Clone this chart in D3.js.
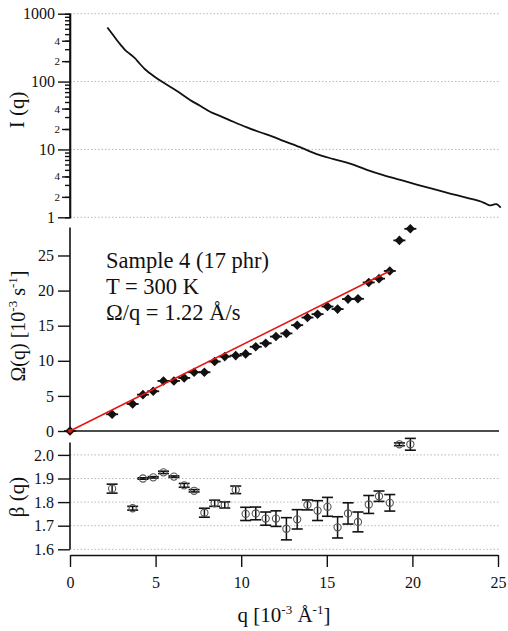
<!DOCTYPE html>
<html><head><meta charset="utf-8">
<script src="https://cdn.jsdelivr.net/npm/d3@7"></script>
<style>
html,body{margin:0;padding:0;background:#fff;}
svg text{font-family:"Liberation Serif","Times New Roman",serif;fill:#111;}
</style></head>
<body><svg id="c" width="508" height="631"></svg>
<script>
// ---- data ----
const qIntensity = [2.18,2.45,2.72,2.97,3.21,3.5,3.79,4.08,4.38,4.9,5.45,6.2,7.01,7.6,8.18,8.85,9.54,10.3,11.1,11.8,12.46,13.4,14.41,15.4,16.36,17.3,18.3,19.3,20.25,21.2,22.2,23.2,24.15,24.5,24.7,24.92,25.16];
const intensity = [627,510,413,345,294,255,221,183,152,120,96.6,74,53.6,44,36,30.5,25.6,21.3,17.9,15.6,13.4,10.9,8.53,7.2,6.2,5.05,4.18,3.55,3.04,2.62,2.24,1.93,1.65,1.50,1.53,1.56,1.39];

const qPoints = [2.46,3.66,4.26,4.86,5.46,6.07,6.67,7.25,7.85,8.45,9.04,9.68,10.26,10.85,11.43,12.03,12.64,13.27,13.87,14.46,15.04,15.63,16.24,16.82,17.45,18.05,18.68,19.24,19.88];
const omega = [2.38,3.85,5.18,5.66,7.13,7.13,7.56,8.37,8.37,9.89,10.6,10.74,10.98,12.0,12.5,13.45,13.9,15.07,16.16,16.64,17.73,17.36,18.79,18.83,21.16,21.7,22.8,27.15,28.8];
const beta = [1.857,1.774,1.90,1.905,1.926,1.908,1.871,1.848,1.755,1.795,1.788,1.852,1.75,1.752,1.73,1.73,1.687,1.727,1.788,1.764,1.78,1.693,1.752,1.716,1.79,1.825,1.797,2.045,2.045];
const betaErr = [0.019,0.008,0.003,0.003,0.005,0.003,0.008,0.005,0.019,0.013,0.013,0.016,0.028,0.027,0.028,0.033,0.047,0.041,0.021,0.042,0.04,0.045,0.045,0.042,0.038,0.022,0.035,0.006,0.025];
const fitSlope = 1.22;      // Ω/q (Å/s)
const fitRange = [0, 18.68];
const xTicks = [0,5,10,15,20,25];
const iMajorTicks = [1,10,100,1000];
const omegaTicks = [0,5,10,15,20,25];
const betaTicks = [1.6,1.7,1.8,1.9,2.0];
const annotation = ["Sample 4 (17 phr)","T = 300 K","Ω/q = 1.22 Å/s"];

// ---- layout ----
const svg = d3.select("#c");
const x = d3.scaleLinear().domain([0,25]).range([70,498]);
const yI = d3.scaleLog().domain([1,1000]).range([217.3,13.7]);
const yO = d3.scaleLinear().domain([0,29]).range([431,227.4]);
const yB = d3.scaleLinear().domain([1.6,2.053]).range([549.3,442.4]);

function grid(vals, y){
  svg.append("g").selectAll("line").data(vals).join("line")
    .attr("x1",70).attr("x2",500).attr("y1",d=>y(d)).attr("y2",d=>y(d))
    .attr("stroke","#b8b8b8").attr("stroke-width",1).attr("stroke-dasharray","1.5,2");
}
function styleAxis(g, fs){
  g.attr("font-family",null);
  g.selectAll("path.domain").attr("stroke","#111").attr("stroke-width",1.6);
  g.selectAll(".tick line").attr("stroke","#111").attr("stroke-width",1.4);
  g.selectAll("text").attr("font-family","Liberation Serif, serif").style("font-size",fs+"px").attr("fill","#111");
}

// ---- top panel ----
grid(iMajorTicks, yI);
const minorAll = [];
[1,10,100].forEach(dec=>{for(let k=2;k<=9;k++) minorAll.push(k*dec);});
const gIminor = svg.append("g").attr("transform","translate(70,0)")
  .call(d3.axisLeft(yI).tickValues(minorAll).tickSize(5).tickFormat(""));
styleAxis(gIminor,10);
const labeledMinor = minorAll.filter(v=>{const m=v/Math.pow(10,Math.floor(Math.log10(v)+1e-9)); return Math.abs(m-2)<1e-6||Math.abs(m-4)<1e-6;});
const gIlab = svg.append("g").attr("transform","translate(70,0)")
  .call(d3.axisLeft(yI).tickValues(labeledMinor).tickSize(8).tickPadding(2)
    .tickFormat(v=>String(Math.round(v/Math.pow(10,Math.floor(Math.log10(v)+1e-9))))));
styleAxis(gIlab,11);
gIlab.select("path.domain").remove();
const gI = svg.append("g").attr("transform","translate(70,0)")
  .call(d3.axisLeft(yI).tickValues(iMajorTicks).tickSize(12).tickPadding(3).tickFormat(d3.format("d")));
styleAxis(gI,16);
gI.select("path.domain").attr("d","M0,"+yI(1000)+"V"+yI(1));

const lineI = d3.line().x((d,i)=>x(qIntensity[i])).y(d=>yI(d)).curve(d3.curveCatmullRom);
svg.append("path").datum(intensity).attr("d",lineI)
  .attr("fill","none").attr("stroke","#111").attr("stroke-width",1.8);

svg.append("text").attr("transform","translate(24,110) rotate(-90)")
  .attr("text-anchor","middle").style("font-size","21px").text("I (q)");

// ---- middle panel ----
const gO = svg.append("g").attr("transform","translate(70,0)")
  .call(d3.axisLeft(yO).tickValues(omegaTicks).tickSize(12).tickPadding(4));
styleAxis(gO,16);
gO.select("path.domain").attr("d","M0,"+yO(29)+"V"+yO(0));
svg.append("line").attr("x1",70).attr("x2",499).attr("y1",yO(0)).attr("y2",yO(0))
  .attr("stroke","#111").attr("stroke-width",1.6);

const mk = svg.append("g");
const allQ = [0].concat(qPoints), allO = [0].concat(omega);
allO.forEach((o,i)=>{
  const cx = x(allQ[i]), cy = yO(o);
  mk.append("line").attr("x1",cx-6).attr("x2",cx+6).attr("y1",cy).attr("y2",cy)
    .attr("stroke","#111").attr("stroke-width",1.8);
  mk.append("path").attr("d","M0,-4.8L4.8,0L0,4.8L-4.8,0Z").attr("transform",`translate(${cx},${cy})`).attr("fill","#111");
});
svg.append("line").attr("x1",x(fitRange[0])).attr("y1",yO(fitSlope*fitRange[0]))
  .attr("x2",x(fitRange[1])).attr("y2",yO(fitSlope*fitRange[1]))
  .attr("stroke","#e8140f").attr("stroke-width",1.6);
svg.append("circle").attr("cx",x(0)).attr("cy",yO(0)).attr("r",2).attr("fill","#e8140f");

const ann = svg.append("g");
annotation.forEach((t,i)=>{
  ann.append("text").attr("x",106).attr("y",268+i*26).style("font-size","22.5px").text(t);
});

const tO = svg.append("text").attr("transform","translate(25,326) rotate(-90)")
  .attr("text-anchor","middle").style("font-size","20px");
tO.append("tspan").text("Ω(q) [10");
tO.append("tspan").attr("dy",-8).style("font-size","13px").text("-3");
tO.append("tspan").attr("dy",8).text(" s");
tO.append("tspan").attr("dy",-8).style("font-size","13px").text("-1");
tO.append("tspan").attr("dy",8).text("]");

// ---- bottom panel ----
grid(betaTicks, yB);
const gB = svg.append("g").attr("transform","translate(70,0)")
  .call(d3.axisLeft(yB).tickValues(betaTicks).tickSize(12).tickPadding(4).tickFormat(d3.format(".1f")));
styleAxis(gB,16);
gB.select("path.domain").attr("d","M0,"+yB(2.053)+"V"+yB(1.6));

svg.append("defs").append("clipPath").attr("id","clipB")
  .append("rect").attr("x",70).attr("y",437).attr("width",440).attr("height",120);
const eb = svg.append("g").attr("clip-path","url(#clipB)");
beta.forEach((b,i)=>{
  const cx = x(qPoints[i]), y1 = yB(b+betaErr[i]), y2 = yB(b-betaErr[i]);
  eb.append("line").attr("x1",cx).attr("x2",cx).attr("y1",y1).attr("y2",y2).attr("stroke","#111").attr("stroke-width",1.5);
  [y1,y2].forEach(yy=>eb.append("line").attr("x1",cx-5.5).attr("x2",cx+5.5).attr("y1",yy).attr("y2",yy).attr("stroke","#111").attr("stroke-width",1.6));
  eb.append("circle").attr("cx",cx).attr("cy",yB(b)).attr("r",3.6).attr("fill","none").attr("stroke","#555").attr("stroke-width",1.1);
});

svg.append("text").attr("transform","translate(24,497) rotate(-90)")
  .attr("text-anchor","middle").style("font-size","21px").text("β (q)");

// ---- x axis ----
const gX = svg.append("g").attr("transform","translate(0,555)")
  .call(d3.axisBottom(x).tickValues(xTicks).tickSize(12).tickPadding(10).tickSizeOuter(0));
styleAxis(gX,16);

const tX = svg.append("text").attr("x",284).attr("y",622).attr("text-anchor","middle").style("font-size","21px");
tX.append("tspan").text("q [10");
tX.append("tspan").attr("dy",-8).style("font-size","13px").text("-3");
tX.append("tspan").attr("dy",8).text(" Å");
tX.append("tspan").attr("dy",-8).style("font-size","13px").text("-1");
tX.append("tspan").attr("dy",8).text("]");
</script></body></html>
